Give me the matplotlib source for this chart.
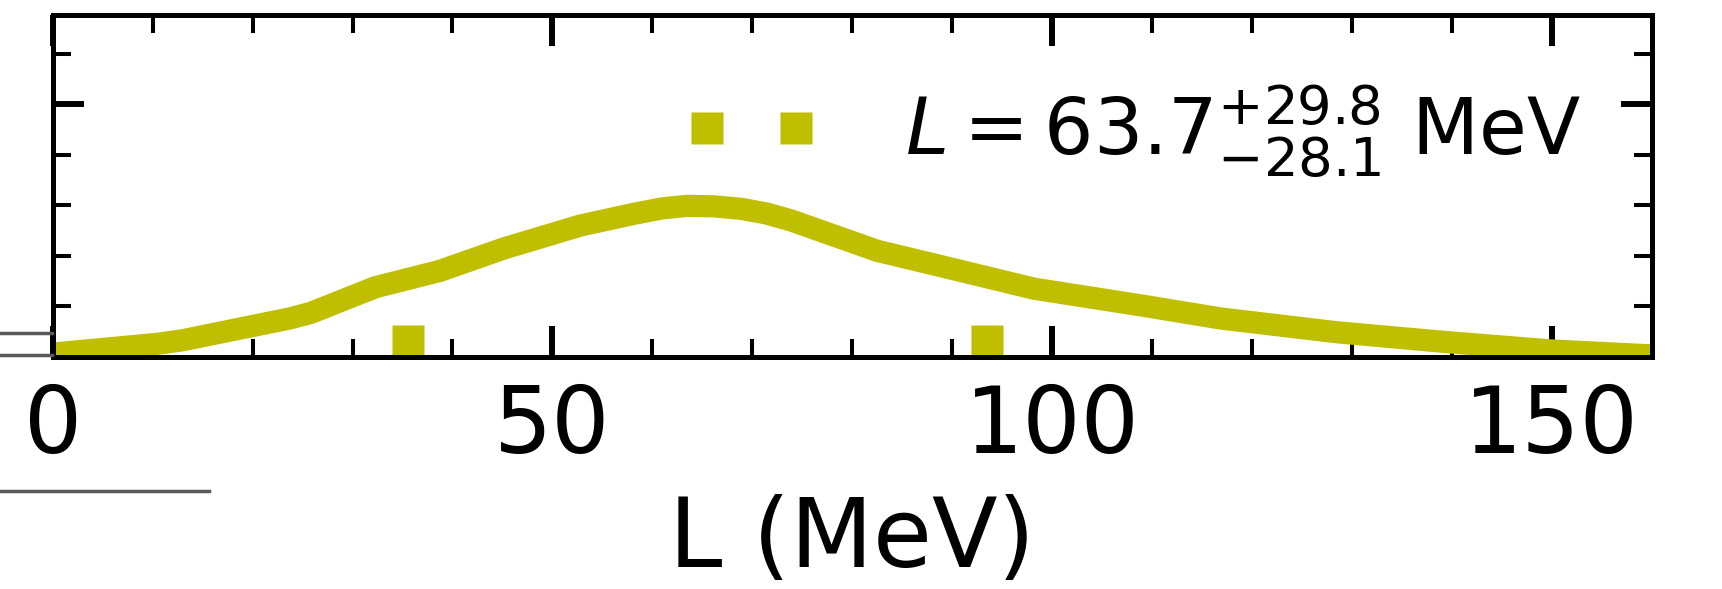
import matplotlib
matplotlib.use("Agg")
import matplotlib.pyplot as plt
from matplotlib.lines import Line2D
from matplotlib.ticker import MultipleLocator
import numpy as np

# posterior of the slope parameter L
L_grid = [0, 10.5, 13, 18.7, 23.7, 25.8, 32.3, 38.7, 45.2, 52.8, 58.1, 61.0,
          63.5, 66.2, 68.9, 71.4, 73.9, 82.5, 88.6, 98.2, 108.9, 116.9, 128.4,
          139.1, 149.8, 160]
pdf = [0.00033, 0.0013, 0.00165, 0.0028, 0.0038, 0.00435, 0.0069, 0.0085,
       0.01075, 0.013, 0.01415, 0.0147, 0.01495, 0.0149, 0.01465, 0.0142,
       0.0135, 0.0105, 0.00905, 0.00675, 0.0051, 0.0038, 0.00245, 0.0015,
       0.00065, 0.00015]

L_med = 63.7
L_up = 29.8
L_lo = 28.1
bounds = [L_med - L_lo, L_med + L_up]

fig = plt.figure(figsize=(17.22, 5.89), dpi=100)
ax = fig.add_axes([0.0306, 0.394, 0.9286, 0.580])

ax.plot(L_grid, pdf, color='y', lw=16)
ax.plot(bounds, [0.00153, 0.00153], ls='none', marker='s', ms=23,
        color='y', mec='none',
        label=r'$L = %.1f^{+%.1f}_{-%.1f}$ MeV' % (L_med, L_up, L_lo))

ax.set_xlim(0, 160)
ax.set_ylim(0, 0.0338)
ax.xaxis.set_major_locator(MultipleLocator(50))
ax.xaxis.set_minor_locator(MultipleLocator(10))
ax.yaxis.set_major_locator(MultipleLocator(0.025))
ax.yaxis.set_minor_locator(MultipleLocator(0.005))
ax.tick_params(which='both', direction='in', top=True, right=True,
               labelleft=False, labelsize=66, pad=18)
ax.tick_params(which='major', length=22, width=4.3)
ax.tick_params(which='minor', length=13, width=2.9)
for s in ax.spines.values():
    s.set_linewidth(3.6)

ax.set_xlabel('L (MeV)', fontsize=69, labelpad=16)
ax.legend(loc='center', bbox_to_anchor=(0.675, 0.662), frameon=False,
          fontsize=56, numpoints=2, handlelength=1.75, handletextpad=1.1)

# bits of the neighbouring panel on the left
for y0, x1 in [(333, 52), (355, 52), (491, 209)]:
    fig.add_artist(Line2D([0, x1 / 1722], [1 - y0 / 589, 1 - y0 / 589],
                          transform=fig.transFigure, color='0.35', lw=2.5))

fig.savefig('out.png', dpi=100)
